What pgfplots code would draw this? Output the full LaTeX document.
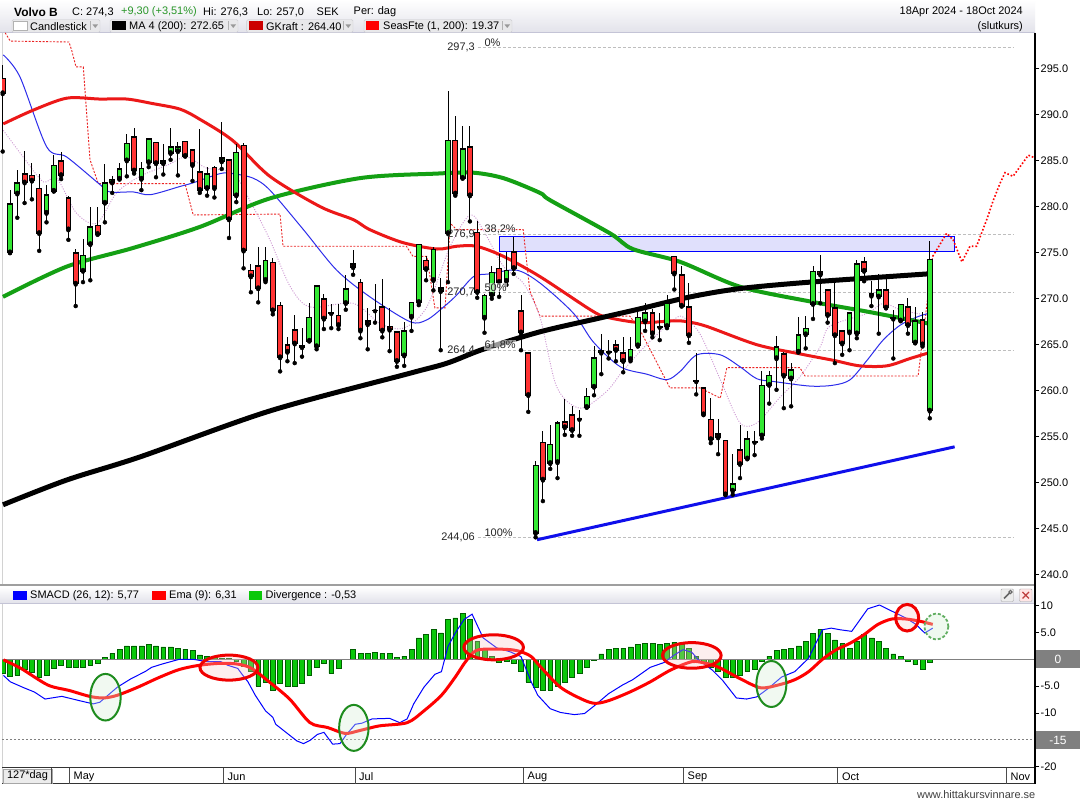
\documentclass[border=0pt]{standalone}
\usepackage{fontspec}
\setmainfont{Liberation Sans}
\usepackage{pgfplots}
\usepackage{pgfplotstable}
\pgfplotsset{compat=1.18}

\definecolor{cgreen}{RGB}{51,232,51}
\definecolor{cred}{RGB}{255,51,51}
\definecolor{magreen}{RGB}{20,160,20}
\definecolor{gkred}{RGB}{236,24,24}
\definecolor{mablue}{RGB}{45,45,235}
\definecolor{pinkdot}{RGB}{205,150,210}
\definecolor{seasred}{RGB}{235,35,35}
\definecolor{trendblue}{RGB}{15,15,235}
\definecolor{rectfill}{RGB}{224,224,252}
\definecolor{fibgray}{RGB}{190,190,190}
\definecolor{histfill}{RGB}{10,200,10}
\definecolor{histdraw}{RGB}{0,95,0}
\definecolor{hdrbot}{RGB}{226,226,234}
\definecolor{hdrline}{RGB}{196,196,214}
\definecolor{boxgray}{RGB}{128,128,128}
\definecolor{legbox}{RGB}{232,232,234}
\definecolor{legborder}{RGB}{205,205,210}
\definecolor{upgreen}{RGB}{40,150,40}
\definecolor{ellg}{RGB}{30,140,30}
\definecolor{ellgf}{RGB}{215,240,215}
\definecolor{ellr}{RGB}{240,0,0}
\definecolor{ellrf}{RGB}{250,200,200}
\definecolor{gkswatch}{RGB}{204,0,0}
\definecolor{seasswatch}{RGB}{255,0,0}
\newcommand{\fs}[1]{\fontsize{#1}{#1}\selectfont}

\pgfplotstableread{
i O H L C
0 293.95 295.4 286.0 292.3
1 275.0 281.8 275.0 280.3
2 281.4 284.0 278.8 282.6
3 283.6 286.0 280.4 282.6
4 283.4 284.7 280.8 282.8
5 282.0 283.6 275.2 277.1
6 279.3 282.4 278.3 281.3
7 281.7 285.6 281.7 284.5
8 285.0 285.9 283.0 283.4
9 281.0 281.2 276.4 277.5
10 275.0 275.4 269.2 271.6
11 273.0 276.5 271.8 274.7
12 275.9 280.0 272.0 277.8
13 278.0 280.0 277.0 277.0
14 280.4 284.6 278.3 282.6
15 282.6 283.3 281.5 283.0
16 283.0 284.7 283.0 284.1
17 285.0 287.9 283.3 286.9
18 287.6 288.6 283.6 283.9
19 283.0 284.9 281.8 284.2
20 284.8 287.4 284.3 287.4
21 287.0 287.0 283.2 284.7
22 284.7 286.8 283.5 285.0
23 285.8 288.6 285.1 286.5
24 286.0 287.0 283.4 286.5
25 287.1 287.1 285.5 285.5
26 286.2 286.2 282.8 284.5
27 283.8 288.4 281.5 281.8
28 282.0 284.3 281.2 283.6
29 284.3 284.4 281.0 282.0
30 284.9 289.2 284.1 285.3
31 285.1 285.1 276.6 278.6
32 281.2 286.8 280.5 285.9
33 286.7 286.9 273.3 275.2
34 273.1 273.8 270.7 272.4
35 273.6 275.6 269.6 271.1
36 272.0 275.6 271.8 274.2
37 273.95 274.4 268.3 268.7
38 269.3 269.6 262.1 263.6
39 265.0 265.8 263.2 264.2
40 266.6 268.2 263.0 265.1
41 264.7 266.8 263.7 264.9
42 265.4 269.5 265.4 268.0
43 264.8 271.5 264.5 271.4
44 270.0 270.5 266.7 267.8
45 268.4 269.4 266.8 268.4
46 268.2 269.4 266.7 267.1
47 269.5 272.6 268.8 271.1
48 273.8 275.3 272.6 273.4
49 271.8 272.1 265.7 266.5
50 267.6 269.0 264.5 267.2
51 268.7 271.6 267.4 268.7
52 269.1 272.1 265.8 266.5
53 267.0 269.0 264.3 266.6
54 266.4 266.4 262.6 263.2
55 263.8 267.5 262.7 266.5
56 268.0 269.6 266.5 269.6
57 269.6 275.9 269.3 275.9
58 274.2 274.6 272.0 273.2
59 272.0 275.6 270.9 275.4
60 270.8 272.2 264.4 271.2
61 277.1 292.6 271.8 287.2
62 287.2 289.9 281.2 281.4
63 283.1 288.8 283.1 286.3
64 286.5 288.8 278.4 281.2
65 277.2 278.4 270.1 270.7
66 267.9 270.5 266.3 270.4
67 270.4 273.5 270.0 272.9
68 273.3 274.9 270.2 271.8
69 271.9 275.1 271.5 273.1
70 275.1 276.7 272.7 273.3
71 268.7 270.4 264.4 266.3
72 264.1 264.1 257.7 259.5
73 244.5 252.4 244.06 251.9
74 254.4 255.6 248.0 250.3
75 252.1 256.3 251.5 254.2
76 252.2 256.7 250.5 256.5
77 256.6 259.1 255.2 256.0
78 257.4 258.3 255.1 255.7
79 256.9 257.9 255.1 256.9
80 258.2 260.3 258.2 259.4
81 260.4 264.9 259.5 263.6
82 264.1 266.2 261.8 264.4
83 264.3 265.5 263.5 264.2
84 265.0 265.5 263.2 264.4
85 264.1 265.8 262.0 263.2
86 263.4 265.8 263.2 264.5
87 264.9 268.5 264.8 268.0
88 267.5 269.5 266.5 268.5
89 268.5 268.9 265.8 266.2
90 266.9 268.4 265.5 266.9
91 267.0 270.4 266.8 269.5
92 274.6 274.6 271.0 272.7
93 272.6 273.5 269.2 269.2
94 269.1 271.7 265.2 266.0
95 261.0 264.1 259.6 261.0
96 260.3 260.3 257.4 257.4
97 256.9 259.2 254.3 254.7
98 255.3 256.9 253.1 254.9
99 254.6 254.6 248.7 248.7
100 249.1 253.1 248.7 249.9
101 253.6 256.3 250.5 252.0
102 252.6 255.6 252.6 254.8
103 254.4 255.6 253.0 254.4
104 255.1 262.1 254.8 260.6
105 260.6 262.1 258.6 261.7
106 263.5 265.9 260.1 264.8
107 264.0 264.2 258.1 261.6
108 261.3 263.0 258.3 262.3
109 264.2 268.0 264.2 266.1
110 266.1 268.1 264.6 266.8
111 269.4 273.6 267.8 273.0
112 273.0 274.8 269.5 272.6
113 271.0 271.0 267.4 268.2
114 269.0 271.7 263.0 266.0
115 266.5 266.5 263.9 265.1
116 266.3 268.5 264.4 268.5
117 266.2 274.2 265.7 273.8
118 274.0 274.5 271.9 273.0
119 270.3 271.9 269.2 270.6
120 270.2 272.7 266.2 271.0
121 271.0 272.1 269.0 269.0
122 268.0 268.8 263.5 267.8
123 267.6 269.4 267.6 269.4
124 269.1 270.1 266.2 267.1
125 265.2 269.1 265.2 267.6
126 267.7 268.5 264.8 265.0
127 257.8 276.3 257.0 274.3
}\candles

\pgfplotstableread{
i v
0 -2.6
1 -3.1
2 -3.0
3 -1.9
4 -2.5
5 -3.3
6 -3.0
7 -1.7
8 -1.1
9 -1.5
10 -1.5
11 -1.5
12 -1.1
13 -0.75
14 0.4
15 1.1
16 1.8
17 2.5
18 2.5
19 2.5
20 2.7
21 2.5
22 2.3
23 2.3
24 2.1
25 1.9
26 1.6
27 0.8
28 0.6
29 0.3
30 0.2
31 0.2
32 -0.45
33 -1.3
34 -2.3
35 -5.0
36 -4.2
37 -5.7
38 -4.5
39 -5.0
40 -5.0
41 -4.5
42 -3.0
43 -1.4
44 -0.75
45 -2.6
46 -1.7
47 0.05
48 1.8
49 1.1
50 1.1
51 1.3
52 1.1
53 1.1
54 0.3
55 0.6
56 1.8
57 4.0
58 4.6
59 5.5
60 4.9
61 7.5
62 7.7
63 8.5
64 7.4
65 3.3
66 1.8
67 0.5
68 -0.6
69 -0.4
70 -0.75
71 -2.3
72 -4.2
73 -5.2
74 -5.8
75 -5.7
76 -5.0
77 -4.2
78 -3.4
79 -2.6
80 -1.5
81 -0.1
82 1.0
83 1.8
84 2.1
85 2.1
86 2.3
87 2.8
88 3.0
89 3.0
90 2.7
91 3.0
92 3.2
93 2.7
94 2.1
95 0.6
96 -0.6
97 -1.5
98 -2.3
99 -3.4
100 -3.3
101 -3.0
102 -2.3
103 -1.9
104 -0.45
105 0.6
106 1.6
107 1.8
108 2.1
109 2.5
110 3.3
111 4.8
112 5.5
113 4.8
114 3.6
115 2.9
116 2.1
117 3.3
118 4.6
119 4.0
120 3.3
121 2.1
122 1.0
123 0.6
124 -0.45
125 -0.9
126 -1.9
127 -0.5
}\hist

\begin{document}
\begin{tikzpicture}
\useasboundingbox (0,0) rectangle (1080bp,800bp);
\fill[white] (0,0) rectangle (1080bp,800bp);

% ---------- static frame (pixel coordinates, y downwards) ----------
\begin{scope}[x=1bp,y=-1bp,shift={(0bp,800bp)}]
  % header
  \shade[top color=white, bottom color=hdrbot] (0,0) rectangle (1035,33);
  \draw[hdrline, line width=1bp] (0,33) -- (1035,33);
  \node[anchor=west, inner sep=0pt, font=\fs{12}\bfseries] at (14,12) {Volvo B};
  \node[anchor=west, inner sep=0pt, font=\fs{11}] at (72,12) {C: 274,3};
  \node[anchor=west, inner sep=0pt, font=\fs{11}, text=upgreen] at (121,12) {+9,30 (+3,51\%)};
  \node[anchor=west, inner sep=0pt, font=\fs{11}] at (203,12) {Hi: 276,3};
  \node[anchor=west, inner sep=0pt, font=\fs{11}] at (257,12) {Lo: 257,0};
  \node[anchor=west, inner sep=0pt, font=\fs{11}] at (316.5,12) {SEK};
  \node[anchor=west, inner sep=0pt, font=\fs{11}] at (353.5,12) {Per: dag};
  \node[anchor=east, inner sep=0pt, font=\fs{11}] at (1023,12) {18Apr 2024 - 18Oct 2024};
  \node[anchor=east, inner sep=0pt, font=\fs{11}] at (1023,26.5) {(slutkurs)};
  % legend boxes
  \foreach \a/\b/\c in {12/100/90, 110/238/228, 246.6/353/343, 364/512/502}{
    \draw[legborder, fill=legbox, rounded corners=1.5bp] (\a,19.5) rectangle (\b,32.5);
    \draw[gray!60] (\c,21.5) -- (\c,30.5);
    \fill[gray!80] (\c+2.5,24.5) -- (\c+8,24.5) -- (\c+5.25,28) -- cycle;
  }
  \draw[gray!60, fill=white] (13.5,21.5) rectangle (27.5,30.5);
  \fill[black] (112,21.5) rectangle (126,30.5);
  \fill[gkswatch] (249,21.5) rectangle (263,30.5);
  \fill[seasswatch] (365.5,21.5) rectangle (379,30.5);
  \node[anchor=west, inner sep=0pt, font=\fs{11}] at (30,26.5) {Candlestick};
  \node[anchor=west, inner sep=0pt, font=\fs{11}] at (129,26.5) {MA 4 (200): 272.65};
  \node[anchor=west, inner sep=0pt, font=\fs{11}] at (266,26.5) {GKraft : 264.40};
  \node[anchor=west, inner sep=0pt, font=\fs{11}] at (383,26.5) {SeasFte (1, 200): 19.37};
  % left borders
  \draw[gray!35, line width=1.2bp] (2.5,33) -- (2.5,585);
  \draw[gray!35, line width=1.2bp] (2.5,603) -- (2.5,784);
  % separator between panels
  \fill[gray!75] (0,584) rectangle (1035,587);
  % MACD header
  \shade[top color=white, bottom color=hdrbot] (0,587) rectangle (1035,603);
  \draw[hdrline] (0,603) -- (1035,603);
  \fill[blue] (13,591) rectangle (27,600);
  \node[anchor=west, inner sep=0pt, font=\fs{11}] at (30,595.5) {SMACD (26, 12): 5,77};
  \fill[red] (152,591) rectangle (165.5,600);
  \node[anchor=west, inner sep=0pt, font=\fs{11}] at (169,595.5) {Ema (9): 6,31};
  \fill[histfill] (249,591) rectangle (262,600);
  \node[anchor=west, inner sep=0pt, font=\fs{11}] at (265.5,595.5) {Divergence : -0,53};
  % icons
  \draw[gray!70, fill=gray!15, rounded corners=1bp] (1001,589) rectangle (1013.5,601.5);
  \draw[gray!80!black, line width=1.6bp] (1004,598.5) -- (1009.5,593);
  \draw[gray!80!black, line width=1bp] (1010.5,592) circle (1.6);
  \draw[gray!70, fill=red!10, rounded corners=1bp] (1019.5,589) rectangle (1032,601.5);
  \draw[red!50!gray, line width=1.3bp] (1022.5,592) -- (1029,598.5) (1022.5,598.5) -- (1029,592);
  % date bar
  \draw[black!80, line width=1bp] (2,768) -- (1035,768);
  \draw[black!80, line width=1bp] (2,784) -- (1035,784);
  \draw[gray!70, fill=gray!15] (3.4,769.2) rectangle (51.7,782.8);
  \node[font=\fs{11}, inner sep=0pt] at (27.5,776) {127*dag};
  \foreach \s in {51.7,69,223.4,355.2,523.4,683.1,837.6,1006.2}{
    \draw[black!70, line width=1bp] (\s,768) -- (\s,784);
  }
  \node[anchor=west, inner sep=0pt, font=\fs{11}] at (73.5,776.5) {May};
  \node[anchor=west, inner sep=0pt, font=\fs{11}] at (227.5,776.5) {Jun};
  \node[anchor=west, inner sep=0pt, font=\fs{11}] at (359,776.5) {Jul};
  \node[anchor=west, inner sep=0pt, font=\fs{11}] at (527.5,776.5) {Aug};
  \node[anchor=west, inner sep=0pt, font=\fs{11}] at (687.5,776.5) {Sep};
  \node[anchor=west, inner sep=0pt, font=\fs{11}] at (842,776.5) {Oct};
  \node[anchor=west, inner sep=0pt, font=\fs{11}] at (1010.5,776.5) {Nov};
  % footer
  \node[anchor=east, inner sep=0pt, font=\fs{11}, text=black!75] at (1035.5,795) {www.hittakursvinnare.se};
\end{scope}

% ---------- price panel ----------
\begin{axis}[
  at={(2bp,215bp)}, anchor=south west, scale only axis,
  width=1033bp, height=552bp,
  xmin=-0.0959, xmax=141.41, ymin=238.88, ymax=298.88,
  axis x line=none, axis y line*=right,
  y axis line style={draw=none},
  ytick={240,245,...,295},
  yticklabels={240.0,245.0,250.0,255.0,260.0,265.0,270.0,275.0,280.0,285.0,290.0,295.0},
  yticklabel style={font=\fs{11}, inner sep=1.5bp},
  tick align=outside, major tick length=4bp,
  tick style={black, line width=0.8bp},
  clip mode=individual,
]
% Fibonacci levels
\addplot[fibgray, line width=0.8bp, dash pattern=on 3bp off 2bp] coordinates {(65.1,297.3) (138.4,297.3)};
\addplot[fibgray, line width=0.8bp, dash pattern=on 3bp off 2bp] coordinates {(65.1,276.96) (138.4,276.96)};
\addplot[fibgray, line width=0.8bp, dash pattern=on 3bp off 2bp] coordinates {(65.1,270.68) (138.4,270.68)};
\addplot[fibgray, line width=0.8bp, dash pattern=on 3bp off 2bp] coordinates {(65.1,264.4) (138.4,264.4)};
\addplot[fibgray, line width=0.8bp, dash pattern=on 3bp off 2bp] coordinates {(65.1,244.06) (138.4,244.06)};
% resistance box
\draw[draw=blue, fill=rectfill, line width=1bp] (axis cs:68.1,275.1) rectangle (axis cs:130.4,276.8);
% SeasFte stepped
\addplot[seasred, line width=0.9bp, dash pattern=on 2bp off 1.5bp] coordinates {
(0.34,298.9) (1.04,298.0) (9.08,297.9) (9.45,297.0) (10.04,295.2) (11.04,295.2) (11.96,285.1) (13.1,282.5)
(24.97,282.5) (26.1,279.1) (37.99,279.2) (38.4,275.7) (55.3,275.7) (56.2,274.6) (58.1,274.6) (59.2,269.0)
(60.6,269.0) (61.3,278.2) (62.2,277.5) (71.3,277.5) (72.2,270.9) (73.6,268.1) (85.9,268.1) (87.3,266.6)
(91.4,260.3) (95.5,260.3) (98.3,259.2) (99.2,262.5) (109.2,262.5) (109.9,261.6) (125.4,261.6) (127.4,274.6)};
\addplot[red, line width=1.6bp, dash pattern=on 1.6bp off 2bp] coordinates {
(127.4,274.6) (129.3,277.1) (130.2,276.4) (131.4,274.0) (132.5,275.7) (133.4,275.7) (134.8,278.6) (135.7,280.7)
(136.6,282.5) (137.3,283.7) (138.4,283.3) (139.5,284.5) (140.5,285.6) (141.4,285.3)};
% pink dotted
\addplot[pinkdot, line width=0.9bp, dash pattern=on 1bp off 1.5bp, smooth] coordinates {
(0.08,288.3) (2.8,285.4) (5.56,282.7) (7.4,283.1) (10.1,279.3) (12.9,278.2) (15.6,281.5) (18.8,283.3)
(22.5,284.5) (25.2,285.4) (27.9,284.2) (31.6,283.6) (34.3,280.0) (36.6,276.4) (39.4,271.3) (42.1,269.1)
(48.0,269.5) (51.7,267.3) (54.9,266.8) (58.1,269.1) (61.3,275.7) (64.0,279.1) (65.8,277.5) (68.6,273.5)
(71.3,271.7) (73.6,268.0) (75.9,260.4) (79.1,258.1) (82.7,259.9) (85.0,262.2) (88.2,265.0) (91.9,267.7)
(93.2,268.0) (95.5,266.2) (98.3,261.2) (101.0,256.5) (103.3,256.5) (106.5,259.3) (109.2,261.5) (112.0,264.8)
(113.3,267.0) (118.4,268.4) (120.6,269.5) (122.9,268.8) (125.2,268.4) (126.8,268.2)};
% blue thin MA
\addplot[mablue, line width=1bp, smooth] coordinates {
(0.08,296.5) (2.37,294.1) (6.03,286.5) (8.77,285.4) (13.33,282.4) (14.7,281.6) (17.9,281.6) (20.2,281.3)
(24.3,282.2) (26.1,282.6) (29.8,283.6) (31.5,283.6) (34.3,283.1) (36.6,281.8) (41.2,277.5) (45.75,273.1)
(50.3,270.2) (55.8,267.5) (58.1,267.7) (60.4,269.1) (62.2,270.4) (64.5,272.4) (66.75,272.7) (70.4,273.1)
(73.6,271.7) (78.2,268.4) (80.9,265.3) (84.6,262.6) (88.2,261.8) (91.0,261.2) (92.8,262.1) (95.1,263.9)
(98.3,263.9) (101.0,262.6) (103.3,261.3) (105.6,261.0) (110.6,260.5) (113.8,260.6) (116.1,261.2) (118.4,263.3)
(120.6,265.5) (122.9,267.1) (125.2,268.0) (126.8,268.4)};
% green MA
\addplot[magreen, line width=4bp, smooth] coordinates {
(0.04,270.2) (8.8,273.5) (17.8,275.5) (27.0,277.8) (36.6,280.9) (48.9,283.1) (59.5,283.6) (64.4,283.7)
(68.6,283.1) (73.6,281.5) (75.0,280.7) (83.2,277.1) (86.3,275.4) (92.8,274.0) (101.0,271.3) (110.6,269.7)
(118.4,268.6) (126.8,267.3)};
% red GKraft
\addplot[gkred, line width=3bp, smooth] coordinates {
(0.08,289.0) (4.2,290.5) (8.8,291.8) (13.3,291.7) (17.0,291.7) (20.6,291.2) (24.3,290.6) (27.0,289.5)
(31.5,287.2) (36.6,283.3) (43.5,280.0) (48.0,278.6) (50.3,277.5) (54.8,276.1) (59.5,275.4) (62.2,275.7)
(64.9,275.7) (68.6,274.6) (73.6,272.4) (80.5,268.8) (82.7,268.0) (87.3,267.4) (91.9,267.6) (93.7,267.5)
(96.4,267.0) (103.3,265.0) (109.2,264.0) (113.8,263.3) (117.4,262.7) (121.1,262.7) (124.3,263.5) (126.8,264.1)};
% black MA 200
\addplot[black, line width=5bp, smooth] coordinates {
(0.04,247.6) (8.8,250.3) (18.8,252.8) (36.6,257.8) (55.8,261.9) (60.9,263.0) (65.8,264.5) (73.6,266.4)
(81.8,267.9) (87.3,268.9) (94.2,270.2) (101,271.1) (110.6,271.8) (126.8,272.7)};
% trend line
\addplot[trendblue, line width=3bp] coordinates {(73.2,243.8) (130.4,253.9)};
% candles: wicks
\addplot[only marks, mark=none, error bars/.cd, y dir=plus, y explicit, error mark=none,
  error bar style={draw=black, line width=1bp}]
  table[x=i, y=L, y error plus expr={\thisrow{H}-\thisrow{L}}] {\candles};
% candles: outline
\addplot[only marks, mark=none, error bars/.cd, y dir=plus, y explicit, error mark=none,
  error bar style={draw=black, line width=5.8bp}]
  table[x=i, y expr={min(\thisrow{O},\thisrow{C})-0.055}, y error plus expr={max(abs(\thisrow{C}-\thisrow{O})+0.11,0.17)}] {\candles};
% candles: green bodies
\addplot[only marks, mark=none, error bars/.cd, y dir=plus, y explicit, error mark=none,
  error bar style={draw=cgreen, line width=3.8bp}]
  table[x=i, y expr={(\thisrow{C}-\thisrow{O}>0.25) ? (\thisrow{O}+0.11) : nan}, y error plus expr={\thisrow{C}-\thisrow{O}-0.22}] {\candles};
% candles: red bodies
\addplot[only marks, mark=none, error bars/.cd, y dir=plus, y explicit, error mark=none,
  error bar style={draw=cred, line width=3.8bp}]
  table[x=i, y expr={(\thisrow{O}-\thisrow{C}>0.25) ? (\thisrow{C}+0.11) : nan}, y error plus expr={\thisrow{O}-\thisrow{C}-0.22}] {\candles};
% Fibonacci labels
\node[anchor=east, inner sep=0pt, font=\fs{11}, text=black!85] at (axis cs:64.7,297.3) {297,3};
\node[anchor=east, inner sep=0pt, font=\fs{11}, text=black!85] at (axis cs:64.7,276.96) {276,9};
\node[anchor=east, inner sep=0pt, font=\fs{11}, text=black!85] at (axis cs:64.7,270.68) {270,7};
\node[anchor=east, inner sep=0pt, font=\fs{11}, text=black!85] at (axis cs:64.7,264.4) {264,4};
\node[anchor=east, inner sep=0pt, font=\fs{11}, text=black!85] at (axis cs:64.7,244.06) {244,06};
\foreach \p/\t in {297.3/0\%, 276.96/38{,}2\%, 270.68/50\%, 264.4/61{,}8\%, 244.06/100\%}{
  \edef\temp{\noexpand\node[anchor=south west, inner sep=0.6bp, font=\noexpand\fs{11}, fill=white, fill opacity=0.6, text opacity=1, text=black!85] at (axis cs:65.9,\p) {\t};}
  \temp
}
\end{axis}

% ---------- MACD panel ----------
\begin{axis}[
  at={(2bp,32bp)}, anchor=south west, scale only axis,
  width=1033bp, height=165bp,
  xmin=-0.0959, xmax=141.41, ymin=-20.24, ymax=10.48,
  axis x line=none, axis y line*=right,
  y axis line style={draw=none},
  ytick={-20,-15,-10,-5,0,5,10},
  yticklabels={-20,,-10,-5.0,,5.0,10},
  yticklabel style={font=\fs{11}, inner sep=1.5bp},
  tick align=outside, major tick length=4bp,
  tick style={black, line width=0.8bp},
  clip mode=individual,
]
\addplot[gray, line width=0.8bp, dash pattern=on 2bp off 2bp] coordinates {(-0.0959,-15) (141.41,-15)};
\addplot[ybar, bar width=4.8bp, fill=histfill, draw=histdraw, line width=0.6bp] table[x=i, y=v] {\hist};
\addplot[gray, line width=1bp] coordinates {(-0.0959,0) (141.41,0)};
\addplot[blue, line width=1bp] coordinates {
(0.1,-3.0) (1.05,-4.2) (2.9,-5.3) (4.35,-6.1) (5.8,-7.4) (8.1,-6.9) (10.5,-7.7) (12.4,-8.3) (13.3,-8.0)
(15.7,-5.2) (17.6,-3.6) (19.5,-2.3) (20.4,-1.5) (21.8,-0.9) (24.2,0) (26.1,0) (28,-0.45) (29.9,-0.45)
(30.8,-1.1) (32.2,-1.7) (32.9,-3.0) (33.6,-4.2) (34.6,-6.7) (36,-9.6) (37,-10.8) (37.4,-12.1) (38.8,-13.6)
(40.3,-15.2) (41.2,-15.7) (42.1,-15.1) (43.1,-14.0) (44,-13.6) (45.2,-15.8) (46.2,-15.7) (47.1,-14.0)
(48.3,-12.1) (49.2,-11.9) (50.6,-11.1) (53,-11.0) (54.4,-11.8) (55.4,-11.1) (56.3,-8.3) (57.7,-5.2)
(59.2,-2.8) (60.1,-2.3) (61.0,2.4) (62,4.9) (63.2,7.4) (64.3,8.4) (65.8,4.0) (67.7,2.1) (69.5,1.4)
(71,0.5) (72.4,-4.2) (73.3,-6.7) (75.0,-9.2) (76.4,-9.9) (78.3,-10.3) (79.7,-10.1) (81.1,-8.6) (83.0,-6.4)
(84.9,-4.8) (86.3,-3.8) (88.7,-1.5) (90.6,-0.6) (92.0,0.8) (93.2,1.8) (94.4,1.3) (95.3,-0.1) (97.2,-2.0)
(98.6,-3.9) (100.5,-7.2) (101.9,-7.4) (103.3,-7.0) (104.8,-5.5) (106.7,-3.3) (108.5,-2.3) (110.4,0.2)
(112.3,5.5) (113.5,5.8) (114.7,5.5) (116.3,5.2) (118.5,9.4) (120.1,10.1) (121.3,9.3) (123.7,7.7)
(125.1,6.5) (126.3,4.9) (127.4,5.8)};
\addplot[red, line width=3bp, smooth] coordinates {
(0.1,-0.1) (2.5,-1.7) (6.2,-4.8) (9.1,-5.8) (11.9,-6.9) (13.8,-7.2) (15.7,-6.7) (18.5,-5.2) (21.4,-3.4)
(24.2,-1.9) (27.0,-1.1) (29.9,-0.75) (32.2,-0.9) (34.1,-1.7) (36.5,-4.2) (39.3,-7.4) (42.1,-11.8)
(44.5,-12.7) (46.9,-13.8) (48.8,-13.3) (51.6,-12.4) (55.4,-11.8) (57.7,-9.6) (60.1,-6.7) (62.0,-3.3)
(63.4,-0.45) (64.8,1.6) (66.7,1.9) (69.5,1.8) (71.0,1.4) (72.4,0.5) (73.6,-1.3) (76.4,-5.2) (79.3,-7.4)
(81.1,-8.2) (83.0,-7.7) (85.9,-6.1) (88.7,-4.2) (91.5,-2.0) (94.4,-0.45) (96.3,-0.75) (98.1,-1.5)
(101.0,-3.6) (103.8,-5.3) (106.2,-4.8) (108.5,-3.8) (110.4,-2.3) (112.3,0) (114.2,1.8) (116.1,3.0)
(118.0,4.6) (119.9,6.5) (121.8,7.5) (123.7,7.5) (125.6,7.1) (127.4,6.5)};
% annotation ellipses
\draw[ellg, line width=2bp, fill=ellgf, fill opacity=0.35] (axis cs:14.08,-7.06) ellipse [x radius=15.2bp, y radius=23.3bp];
\draw[ellg, line width=2bp, fill=ellgf, fill opacity=0.35] (axis cs:48.1,-12.77) ellipse [x radius=14.7bp, y radius=23bp];
\draw[ellg, line width=2bp, fill=ellgf, fill opacity=0.35] (axis cs:105.3,-4.6) ellipse [x radius=15bp, y radius=23bp];
\draw[ellr, line width=3bp, fill=ellrf, fill opacity=0.3] (axis cs:31.0,-1.55) ellipse [x radius=29bp, y radius=12.5bp];
\draw[ellr, line width=3bp, fill=ellrf, fill opacity=0.3] (axis cs:67.25,2.23) ellipse [x radius=29.8bp, y radius=12.5bp];
\draw[ellr, line width=3bp, fill=ellrf, fill opacity=0.3] (axis cs:94.4,0.72) ellipse [x radius=29.3bp, y radius=12.8bp];
\draw[ellr, line width=3bp, fill=ellrf, fill opacity=0.3] (axis cs:123.9,7.74) ellipse [x radius=11.4bp, y radius=13.3bp];
\draw[ellg!70!white, line width=1.8bp, dash pattern=on 3bp off 2bp, fill=ellgf, fill opacity=0.4] (axis cs:127.9,6.1) ellipse [x radius=12bp, y radius=13bp];
\end{axis}

% ---------- right side overlays ----------
\begin{scope}[x=1bp,y=-1bp,shift={(0bp,800bp)}]
  \fill[boxgray] (1035,650.5) rectangle (1080,668.5);
  \node[text=white, font=\fs{12}, inner sep=0pt] at (1058,659.5) {0};
  \fill[boxgray] (1035,731) rectangle (1080,749);
  \node[text=white, font=\fs{12}, inner sep=0pt] at (1058,740) {-15};
  \draw[black, line width=1.2bp] (1035,33) -- (1035,784);
\end{scope}
\end{tikzpicture}
\end{document}
